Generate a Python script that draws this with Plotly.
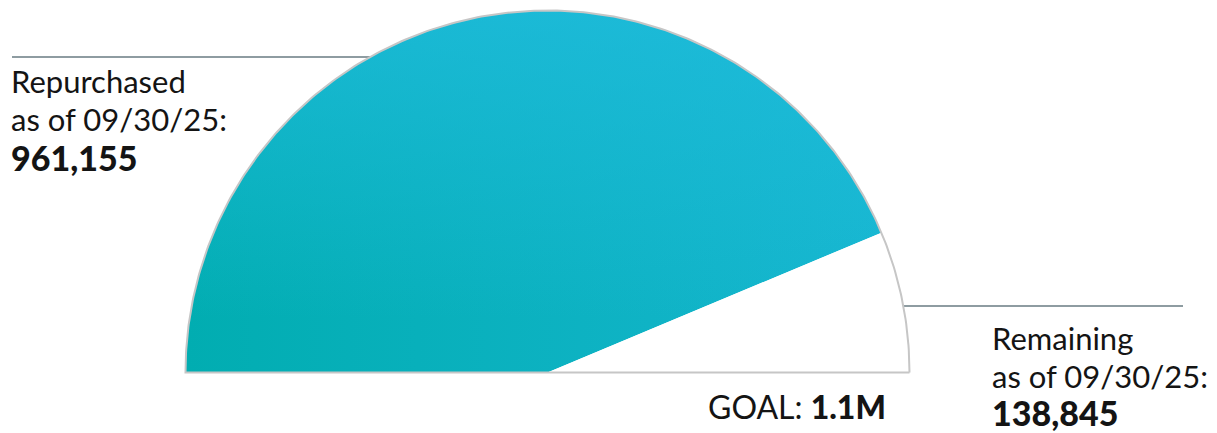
import numpy as np
import plotly.graph_objects as go

# ---- data ----
categories = ["Repurchased", "Remaining"]
values = [961155, 138845]
goal = 1100000
goal_label = "1.1M"
as_of = "09/30/25"

# ---- layout constants (pixels, in window coordinates) ----
WIN_W, WIN_H = 1217, 433
OFF = 8                      # default page body margin
W, H = WIN_W - OFF, WIN_H - OFF
CX, CY, R = 547.5 - OFF, 372.5 - OFF, 362.0

# angle (deg, 0 = right, 180 = left) derived from the data
split_deg = 180.0 * values[1] / goal


def arc(a0, a1, n=200):
    t = np.radians(np.linspace(a0, a1, n))
    return np.cos(t), np.sin(t)


fig = go.Figure()

ax, ay = arc(180.0, split_deg)
sx = np.concatenate([[0], ax, [0]])
sy = np.concatenate([[0], ay, [0]])

# repurchased slice: horizontal base gradient
fig.add_trace(go.Scatter(
    x=sx, y=sy, mode="lines", fill="toself",
    line=dict(width=0, color="rgba(0,0,0,0)"),
    fillgradient=dict(type="horizontal",
                      colorscale=[[0, "#01adb1"], [1, "#16b6cf"]]),
    hoverinfo="skip", name=categories[0], showlegend=False))
# same slice: vertical light tint toward the top (diagonal look)
fig.add_trace(go.Scatter(
    x=sx, y=sy, mode="lines", fill="toself",
    line=dict(width=0, color="rgba(0,0,0,0)"),
    fillgradient=dict(type="vertical", start=0.15, stop=1.0,
                      colorscale=[[0, "rgba(34,189,224,0)"],
                                  [1, "rgba(34,189,224,0.7)"]]),
    hoverinfo="skip", showlegend=False))

# remaining slice
bx, by = arc(split_deg, 0.0)
fig.add_trace(go.Scatter(
    x=np.concatenate([[0], bx, [0]]), y=np.concatenate([[0], by, [0]]),
    mode="lines", fill="toself", fillcolor="#ffffff",
    line=dict(width=0, color="rgba(0,0,0,0)"),
    hoverinfo="skip", name=categories[1], showlegend=False))

# outline of the whole semicircle
ox, oy = arc(0.0, 180.0, 300)
fig.add_trace(go.Scatter(
    x=np.concatenate([ox, [1.0]]), y=np.concatenate([oy, [0.0]]),
    mode="lines", line=dict(width=2, color="#c6c6c6"),
    hoverinfo="skip", showlegend=False))


# ---- helpers: window pixels -> paper ----
def px(x):
    return (x - OFF) / W


def py(y):
    return 1 - (y - OFF) / H


line_col = "#8e9ca1"
fig.add_shape(type="line", xref="paper", yref="paper", layer="below",
              x0=px(12), x1=px(420), y0=py(57), y1=py(57),
              line=dict(color=line_col, width=2))
fig.add_shape(type="line", xref="paper", yref="paper", layer="below",
              x0=px(860), x1=px(1183), y0=py(306), y1=py(306),
              line=dict(color=line_col, width=2))

# ---- labels ----
FONT = "Lato"
FS = 31
txt_col = "#141414"


def label(x, y, text, size=FS, anchor="left"):
    fig.add_annotation(xref="paper", yref="paper", x=px(x), y=py(y),
                       xanchor=anchor, yanchor="middle", showarrow=False,
                       text=text, align="left",
                       font=dict(family=FONT, size=size, color=txt_col))


def heavy(s):
    return f"<span style='font-weight:900'>{s}</span>"


label(9, 81, categories[0])
label(9, 119, f"as of {as_of}:")
label(9, 157, heavy(f"{values[0]:,}"), size=34)

label(990, 338, categories[1])
label(990, 376, f"as of {as_of}:")
label(990, 412, heavy(f"{values[1]:,}"), size=34)

label(888, 406, f"GOAL: {heavy(goal_label)}", size=32, anchor="right")

fig.update_layout(
    width=W, height=H, margin=dict(l=0, r=0, t=0, b=0),
    paper_bgcolor="white", plot_bgcolor="white",
    xaxis=dict(range=[-CX / R, (W - CX) / R], visible=False, fixedrange=True),
    yaxis=dict(range=[-(H - CY) / R, CY / R], visible=False, fixedrange=True),
    showlegend=False,
)

fig.write_html("out.html")
